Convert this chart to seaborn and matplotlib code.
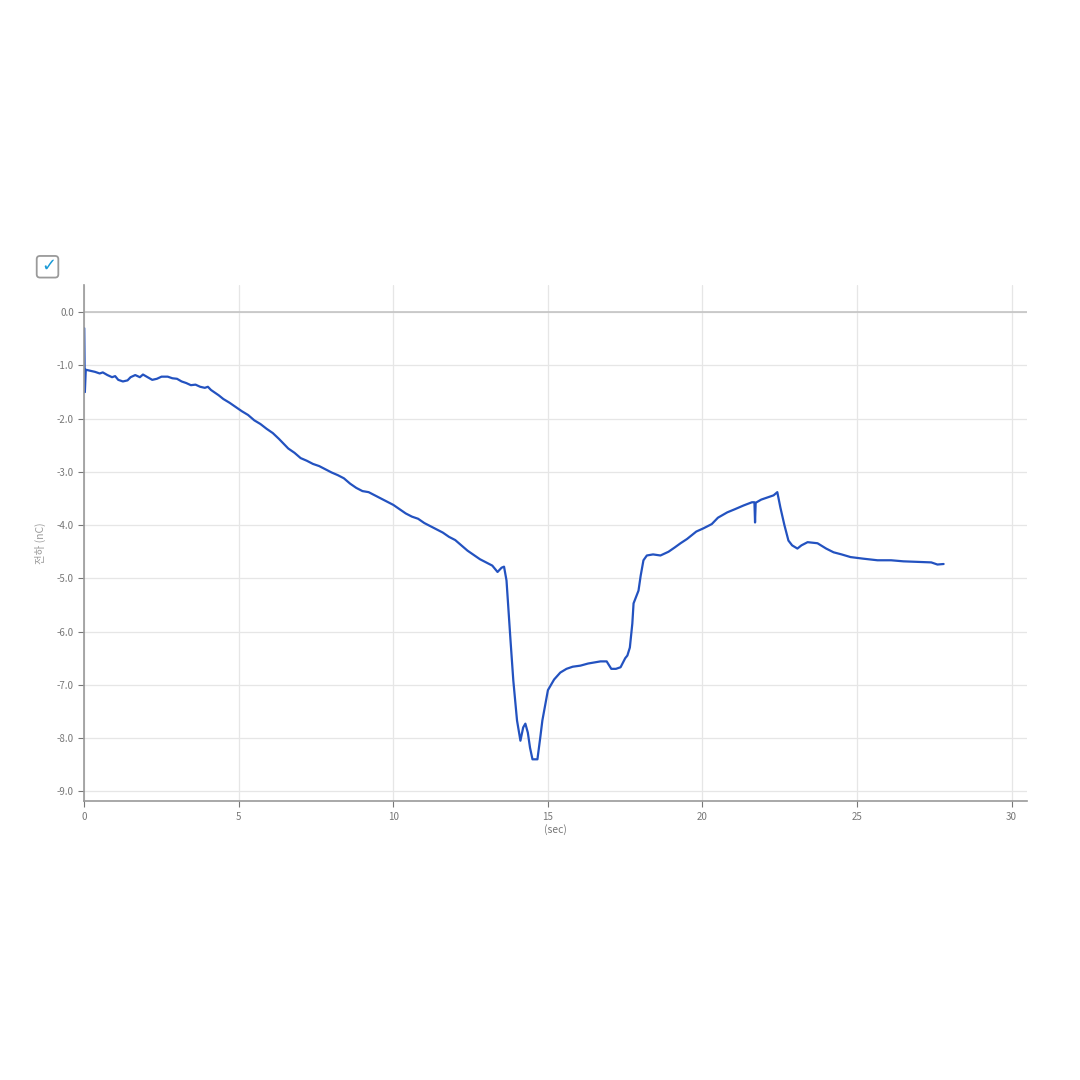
import pandas as pd
import matplotlib.pyplot as plt
from matplotlib.patches import FancyBboxPatch
import seaborn as sns

sns.set_theme(style="whitegrid")
plt.rcParams['font.family'] = ['Noto Sans CJK KR', 'DejaVu Sans']

# charge trace (sec, nC)
tiempo = [
    0.00, 0.02, 0.05, 0.2, 0.35, 0.5, 0.6, 0.75, 0.9, 1.0, 1.1, 1.25, 1.4, 1.5,
    1.65, 1.8, 1.9, 2.05, 2.2, 2.35, 2.5, 2.7, 2.85, 3.0, 3.15, 3.3, 3.45, 3.6,
    3.75, 3.9, 4.0, 4.1, 4.2, 4.35, 4.5, 4.7, 4.9, 5.1, 5.3, 5.5, 5.7, 5.9, 6.1,
    6.3, 6.5, 6.6, 6.8, 7.0, 7.2, 7.4, 7.6, 7.8, 8.0, 8.2, 8.4, 8.6, 8.8, 9.0,
    9.2, 9.4, 9.6, 9.8, 10.0, 10.2, 10.4, 10.6, 10.8, 11.0, 11.2, 11.4, 11.6,
    11.8, 12.0, 12.2, 12.4, 12.6, 12.8, 13.0, 13.2, 13.37, 13.5, 13.58, 13.66,
    13.79, 13.88, 14.0, 14.11, 14.2, 14.27, 14.35, 14.42, 14.5, 14.66, 14.75,
    14.82, 15.0, 15.2, 15.4, 15.6, 15.8, 16.05, 16.3, 16.5, 16.7, 16.9, 17.05,
    17.2, 17.35, 17.5, 17.57, 17.65, 17.73, 17.77, 17.93, 18.0, 18.09, 18.2,
    18.4, 18.64, 18.9, 19.1, 19.29, 19.5, 19.8, 20.03, 20.3, 20.5, 20.8, 21.05,
    21.33, 21.6, 21.68, 21.70, 21.72, 21.9, 22.1, 22.3, 22.42, 22.52, 22.65,
    22.78, 22.9, 23.07, 23.2, 23.4, 23.72, 24.0, 24.24, 24.5, 24.79, 25.2, 25.66,
    26.1, 26.5, 27.0, 27.4, 27.6, 27.8,
]
carga = [
    -0.30, -1.50, -1.08, -1.10, -1.12, -1.15, -1.13, -1.18, -1.22, -1.20, -1.27,
    -1.30, -1.28, -1.22, -1.18, -1.22, -1.17, -1.22, -1.27, -1.25, -1.21, -1.21,
    -1.24, -1.25, -1.30, -1.33, -1.37, -1.36, -1.40, -1.42, -1.40, -1.46, -1.50,
    -1.56, -1.63, -1.70, -1.78, -1.86, -1.93, -2.03, -2.10, -2.19, -2.27, -2.38,
    -2.50, -2.56, -2.64, -2.74, -2.79, -2.85, -2.89, -2.95, -3.01, -3.06, -3.12,
    -3.22, -3.30, -3.36, -3.38, -3.44, -3.50, -3.56, -3.62, -3.70, -3.78, -3.84,
    -3.88, -3.96, -4.02, -4.08, -4.14, -4.22, -4.28, -4.38, -4.48, -4.56, -4.64,
    -4.70, -4.76, -4.88, -4.80, -4.78, -5.04, -6.17, -6.92, -7.67, -8.05, -7.80,
    -7.73, -7.90, -8.18, -8.40, -8.40, -8.00, -7.67, -7.10, -6.90, -6.77, -6.70,
    -6.66, -6.64, -6.60, -6.58, -6.56, -6.56, -6.70, -6.70, -6.67, -6.50, -6.45,
    -6.30, -5.85, -5.47, -5.23, -4.95, -4.66, -4.57, -4.55, -4.57, -4.50, -4.42,
    -4.34, -4.26, -4.12, -4.06, -3.98, -3.86, -3.76, -3.70, -3.63, -3.57, -3.57,
    -3.95, -3.58, -3.52, -3.48, -3.44, -3.38, -3.67, -4.00, -4.29, -4.38, -4.44,
    -4.38, -4.32, -4.34, -4.44, -4.51, -4.55, -4.60, -4.63, -4.66, -4.66, -4.68,
    -4.69, -4.70, -4.74, -4.73,
]
ticks_x = [0, 5, 10, 15, 20, 25, 30]
ticks_y = [0.0, -1.0, -2.0, -3.0, -4.0, -5.0, -6.0, -7.0, -8.0, -9.0]

datos = pd.DataFrame({'sec': tiempo, 'nC': carga})

fig = plt.figure(figsize=(10.8, 10.8), dpi=100)
ax = fig.add_axes([0.078, 0.258, 0.873, 0.478])

sns.lineplot(data=datos, x='sec', y='nC', sort=False, estimator=None,
             color='#2352c0', linewidth=1.6, ax=ax)

ax.set_xlim(0, 30.5)
ax.set_ylim(-9.19, 0.51)
ax.set_xticks(ticks_x)
ax.set_xticklabels([str(t) for t in ticks_x])
ax.set_yticks(ticks_y)
ax.set_yticklabels([f'{v:.1f}' for v in ticks_y])
ax.tick_params(axis='both', labelsize=7, colors='#777777', length=4,
               width=0.8, direction='out', left=True, bottom=True)
ax.set_xlabel('(sec)', fontsize=7.5, color='#777777', labelpad=2)
ax.set_ylabel('전하 (nC)', fontsize=7.5, color='#999999', labelpad=8)

ax.grid(True, color='#e6e6e6', linewidth=0.9)
ax.axhline(0, color='#c4c4c4', linewidth=1.2, zorder=1)
for lado in ['top', 'right']:
    ax.spines[lado].set_visible(False)
for lado in ['left', 'bottom']:
    ax.spines[lado].set_color('#999999')
    ax.spines[lado].set_linewidth(1.2)

# checkbox in the top-left corner
caja = FancyBboxPatch((0.036, 0.745), 0.016, 0.016, transform=fig.transFigure,
                      boxstyle='round,pad=0.002,rounding_size=0.003',
                      facecolor='white', edgecolor='#9a9a9a', linewidth=1.3)
fig.patches.append(caja)
fig.text(0.045, 0.754, '✓', fontsize=13, color='#1a9ad6', fontweight='bold',
         ha='center', va='center', family=['DejaVu Sans'])

plt.savefig('out.png', dpi=100)
